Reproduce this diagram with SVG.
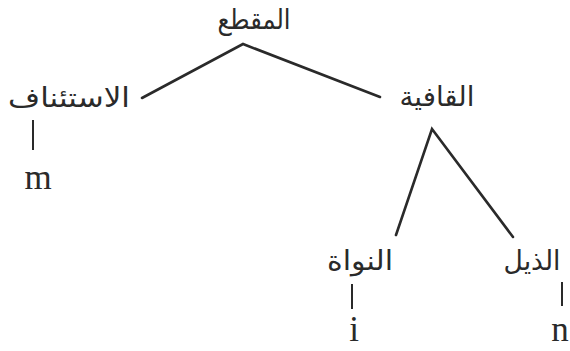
<svg xmlns="http://www.w3.org/2000/svg" width="570" height="351" viewBox="0 0 570 351">
  <style>
    .ar { font-family: "DejaVu Sans", "Noto Sans", sans-serif; font-size: 27px; fill: #2a2a2a; text-anchor: middle; }
    .lt { font-family: "Liberation Serif", "DejaVu Serif", serif; font-size: 35px; fill: #2a2a2a; text-anchor: middle; }
    .edge { stroke: #2a2a2a; stroke-width: 2.6; fill: none; stroke-linecap: round; }
    .tick { stroke: #2a2a2a; stroke-width: 2; fill: none; }
  </style>
  <rect width="570" height="351" fill="#ffffff"/>

  <!-- connectors -->
  <g id="connectors">
    <path class="edge" d="M142,98 L243,44 L380,97"/>
    <path class="edge" d="M396,235 L432,129 L513,237"/>
    <line class="tick" x1="33" y1="120" x2="33" y2="150"/>
    <line class="tick" x1="352" y1="284" x2="352" y2="309"/>
    <line class="tick" x1="562" y1="282" x2="562" y2="306"/>
  </g>

  <!-- nodes -->
  <g id="syllable"><text class="ar" x="254" y="29" textLength="73" lengthAdjust="spacingAndGlyphs">المقطع</text></g>
  <g id="onset"><text class="ar" x="69" y="107" textLength="122" lengthAdjust="spacingAndGlyphs">الاستئناف</text></g>
  <g id="rhyme"><text class="ar" x="437" y="106" textLength="75" lengthAdjust="spacingAndGlyphs">القافية</text></g>
  <g id="nucleus"><text class="ar" x="360" y="270" textLength="66" lengthAdjust="spacingAndGlyphs">النواة</text></g>
  <g id="coda"><text class="ar" x="532" y="270" textLength="57" lengthAdjust="spacingAndGlyphs">الذيل</text></g>
  <g id="seg-m"><text class="lt" x="38" y="189">m</text></g>
  <g id="seg-i"><text class="lt" x="354" y="341">i</text></g>
  <g id="seg-n"><text class="lt" x="560" y="341">n</text></g>
</svg>
